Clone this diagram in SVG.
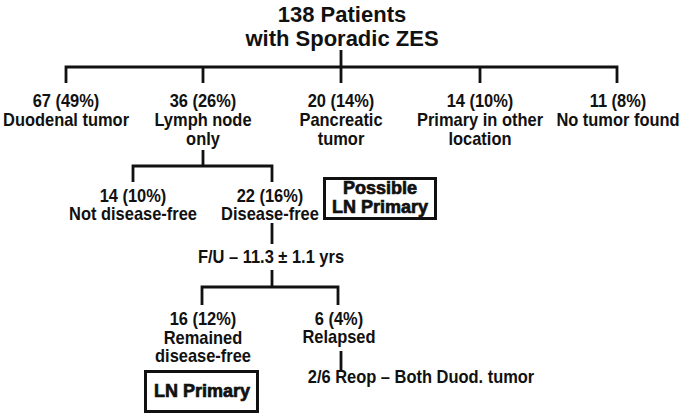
<svg xmlns="http://www.w3.org/2000/svg" width="683" height="419" viewBox="0 0 683 419">
<style>
text{font-family:"Liberation Sans",Arial,sans-serif;font-weight:bold;fill:#111;text-anchor:middle}
.t{font-size:22px}
.l{font-size:17.5px;transform-box:fill-box;transform-origin:center;transform:scaleX(0.94)}
.b{font-size:18px;stroke:#111;stroke-width:0.7}
.c{fill:none;stroke:#111;stroke-width:2.8;stroke-linecap:butt;stroke-linejoin:miter}
.box{fill:none;stroke:#111;stroke-width:3}
</style>
<rect width="683" height="419" fill="#fff"/>
<g id="connectors" class="c">
<path d="M341,50V83M66,83V67H617V83M203,67V83M480,67V83"/>
<path d="M203,150V166M133,182V166H272V182"/>
<path d="M272,223V244M272,270V287M202,305V287H338V305"/>
<path d="M341,351V370"/>
</g>
<g id="root"><text class="t" x="342" y="22">138 Patients</text><text class="t" x="342" y="46">with Sporadic ZES</text></g>
<g id="n-duodenal"><text class="l" x="66" y="107">67 (49%)</text><text class="l" x="66" y="126">Duodenal tumor</text></g>
<g id="n-lymph"><text class="l" x="203" y="107">36 (26%)</text><text class="l" x="203" y="126">Lymph node</text><text class="l" x="203" y="145">only</text></g>
<g id="n-pancreatic"><text class="l" x="341" y="107">20 (14%)</text><text class="l" x="341" y="126">Pancreatic</text><text class="l" x="341" y="145">tumor</text></g>
<g id="n-other"><text class="l" x="480" y="107">14 (10%)</text><text class="l" x="480" y="126">Primary in other</text><text class="l" x="480" y="145">location</text></g>
<g id="n-none"><text class="l" x="618" y="107">11 (8%)</text><text class="l" x="618" y="126">No tumor found</text></g>
<g id="n-notfree"><text class="l" x="133" y="202">14 (10%)</text><text class="l" x="133" y="220">Not disease-free</text></g>
<g id="n-free"><text class="l" x="270" y="202">22 (16%)</text><text class="l" x="270" y="220">Disease-free</text></g>
<g id="n-possible"><rect class="box" x="324.5" y="178.5" width="111" height="40"/><text class="b" x="380" y="194">Possible</text><text class="b" x="380" y="213">LN Primary</text></g>
<g id="n-fu"><text class="l" x="271" y="263">F/U – 11.3 ± 1.1 yrs</text></g>
<g id="n-remained"><text class="l" x="203" y="325">16 (12%)</text><text class="l" x="203" y="344">Remained</text><text class="l" x="203" y="362">disease-free</text></g>
<g id="n-relapsed"><text class="l" x="339" y="325">6 (4%)</text><text class="l" x="339" y="343">Relapsed</text></g>
<g id="n-reop"><text class="l" x="421" y="383">2/6 Reop – Both Duod. tumor</text></g>
<g id="n-lnprimary"><rect class="box" x="145.5" y="371.5" width="112" height="40"/><text class="b" x="202" y="397">LN Primary</text></g>
</svg>
